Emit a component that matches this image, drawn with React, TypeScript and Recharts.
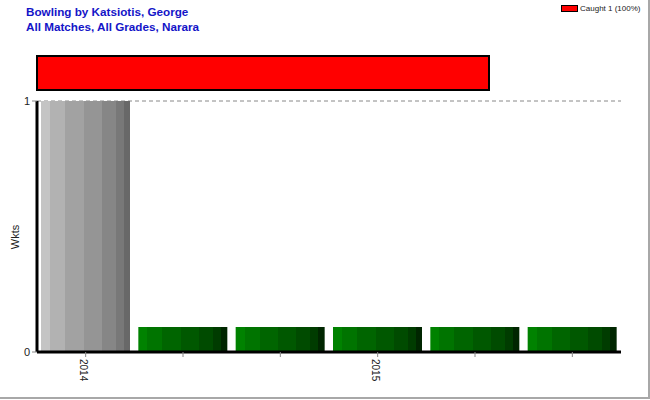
import React from 'react';
import { BarChart, Bar, XAxis, YAxis, CartesianGrid, Cell } from 'recharts';

const matches = ['M1', 'M2', 'M3', 'M4', 'M5', 'M6'];
const seasonLabels = ['2014', '', '', '2015', '', ''];
const barHeights = [1, 0.1, 0.1, 0.1, 0.1, 0.1];
const barKinds = ['wkts', 'nil', 'nil', 'nil', 'nil', 'nil'];
const yTicks = [0, 1];

const dismissalTypes = ['Caught'];
const dismissalCounts = [1];
const dismissalShares = [100];
const dismissalColors = ['#ff0000'];

const titleLines = ['Bowling by Katsiotis, George', 'All Matches, All Grades, Narara'];

const FONT = '"Liberation Sans", Arial, sans-serif';

// stepped shading like the original plot
const stripeStops = [0, 0.1, 0.27, 0.48, 0.68, 0.84, 0.93];
const greyShades = ['#c4c4c4', '#b2b2b2', '#a2a2a2', '#959595', '#868686', '#787878', '#686868'];
const greenShades = ['#008200', '#007400', '#006500', '#005800', '#004b00', '#003c00', '#002600'];

const chartData = matches.map((m, i) => ({
  match: m,
  season: seasonLabels[i],
  value: barHeights[i],
  kind: barKinds[i],
}));

const dismissalData = dismissalTypes.map((t, i) => ({
  type: t,
  count: dismissalCounts[i],
  share: dismissalShares[i],
}));

const totalDismissals = dismissalCounts.reduce((a, b) => a + b, 0);

const stripes = (id: string, shades: string[]) => (
  <linearGradient id={id} x1="0" y1="0" x2="1" y2="0">
    {shades.map((c, i) => {
      const end = i + 1 < stripeStops.length ? stripeStops[i + 1] : 1;
      return (
        <React.Fragment key={i}>
          <stop offset={stripeStops[i]} stopColor={c} />
          <stop offset={end} stopColor={c} />
        </React.Fragment>
      );
    })}
  </linearGradient>
);

const SeasonTick = (props: any) => {
  const { x, y, payload } = props;
  const label = seasonLabels[payload.index] ?? '';
  if (!label) return null;
  return (
    <g transform={`translate(${x - 2},${y})`}>
      <text
        transform="rotate(90)"
        x={0}
        y={0}
        dominantBaseline="central"
        textAnchor="start"
        fontSize={10}
        fontFamily={FONT}
        fill="#222"
      >
        {label}
      </text>
    </g>
  );
};

export default function App() {
  return (
    <div
      style={{
        position: 'absolute',
        left: 0,
        top: 0,
        width: 648,
        height: 397,
        background: '#fff',
        borderRight: '2px solid #a8a8a8',
        borderBottom: '2px solid #a8a8a8',
        fontFamily: FONT,
      }}
    >
      <div style={{ position: 'absolute', left: 26, top: 4, color: '#1414c8', fontWeight: 'bold', fontSize: 11.7, lineHeight: '15px' }}>
        {titleLines.map((t) => (
          <div key={t}>{t}</div>
        ))}
      </div>

      <div style={{ position: 'absolute', left: 561, top: 4, display: 'flex', alignItems: 'center', fontSize: 8, color: '#222' }}>
        {dismissalData.map((d, i) => (
          <React.Fragment key={d.type}>
            <span style={{ display: 'inline-block', width: 15, height: 5, background: dismissalColors[i], border: '1px solid #000', marginRight: 2 }} />
            <span>{`${d.type} ${d.count} (${d.share}%)`}</span>
          </React.Fragment>
        ))}
      </div>

      <div style={{ position: 'absolute', left: 36, top: 55 }}>
        <BarChart
          width={454}
          height={36}
          layout="vertical"
          data={dismissalData}
          margin={{ top: 1, right: 1, bottom: 1, left: 1 }}
          barCategoryGap={0}
        >
          <XAxis type="number" hide domain={[0, totalDismissals]} />
          <YAxis type="category" dataKey="type" hide />
          <Bar dataKey="count" stackId="d" stroke="#000" strokeWidth={2} isAnimationActive={false}>
            {dismissalData.map((d, i) => (
              <Cell key={d.type} fill={dismissalColors[i]} />
            ))}
          </Bar>
        </BarChart>
      </div>

      <div style={{ position: 'absolute', left: 0, top: 0 }}>
        <BarChart
          width={650}
          height={400}
          data={chartData}
          margin={{ top: 101, right: 29, bottom: 8, left: 0 }}
          barSize={89}
        >
          <defs>
            {stripes('greyShade', greyShades)}
            {stripes('greenShade', greenShades)}
          </defs>
          <CartesianGrid vertical={false} stroke="#888" strokeDasharray="4 3" />
          <XAxis
            dataKey="match"
            axisLine={{ stroke: '#000', strokeWidth: 3 }}
            tickLine={{ stroke: '#888' }}
            tickSize={5}
            tick={<SeasonTick />}
            height={40}
            interval={0}
          />
          <YAxis
            width={37}
            domain={[0, 1]}
            ticks={yTicks}
            axisLine={{ stroke: '#000', strokeWidth: 3 }}
            tickLine={{ stroke: '#888' }}
            tickSize={5}
            tick={{ fontSize: 11, fill: '#222', fontFamily: FONT }}
          />
          <Bar dataKey="value" isAnimationActive={false}>
            {chartData.map((d) => (
              <Cell key={d.match} fill={d.kind === 'wkts' ? 'url(#greyShade)' : 'url(#greenShade)'} />
            ))}
          </Bar>
        </BarChart>
      </div>

      <div
        style={{
          position: 'absolute',
          left: 15,
          top: 237,
          transform: 'translate(-50%, -50%) rotate(-90deg)',
          fontSize: 11,
          color: '#222',
        }}
      >
        Wkts
      </div>
    </div>
  );
}
